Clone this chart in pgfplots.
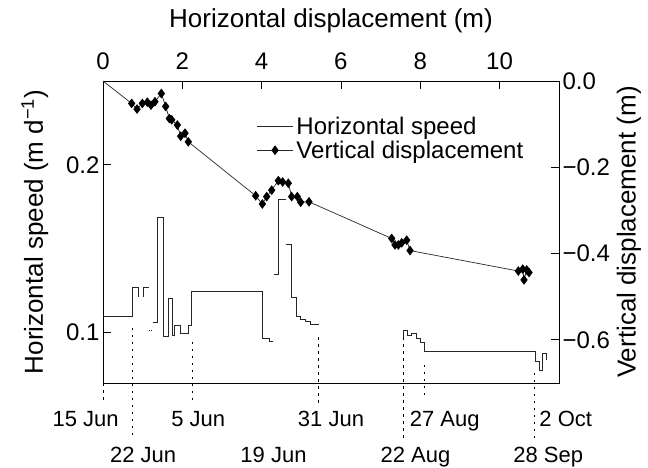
\documentclass[border=0pt]{standalone}
\usepackage{fontspec}
\setmainfont{Liberation Sans}
\usepackage{pgfplots}
\pgfplotsset{compat=1.18}
\begin{document}
\begin{tikzpicture}
\useasboundingbox (-103pt,-84pt) rectangle (545pt,383pt);
\pgfplotsset{
  common/.style={
    width=456pt, height=302pt, scale only axis,
    xmin=0, xmax=11.5,
    clip=false,
    tick align=inside, major tick length=8pt,
    tick style={line width=0.8pt, black},
    axis line style={line width=0.9pt, black},
    tick label style={font=\fontsize{24}{24}\selectfont},
    label style={font=\fontsize{26}{28}\selectfont},
  },
  speedstyle/.style={black!85, line width=0.8pt, mark=none},
  vertstyle/.style={black!85, line width=0.7pt, mark=diamond*, mark size=4.3pt, mark options={black, solid}},
}
\begin{axis}[common,
  ymin=0.07, ymax=0.25,
  xtick={0,2,4,6,8,10}, xticklabels={0,2,4,6,8,10},
  xtick pos=right, xticklabel pos=right,
  xticklabel style={yshift=8pt},
  ytick={0.1,0.2}, yticklabels={0.1,0.2}, ytick pos=left,
  xlabel={Horizontal displacement (m)},
  xlabel style={yshift=13pt},
  ylabel={Horizontal speed (m d\textsuperscript{−1})},
  ylabel style={yshift=11pt},
  unbounded coords=jump,
]
\addplot[speedstyle] coordinates {
(0,0.1099) (0.749,0.1099) (0.749,0.1268) (0.883,0.1268) (0.883,0.1211)
(0.95,nan)
(1.009,0.1211) (1.009,0.1268) (1.152,0.1268)
(1.155,nan)
(1.16,0.1016) (1.178,0.1016)
(1.2,nan)
(1.22,0.1016) (1.238,0.1016)
(1.25,nan)
(1.261,0.1062) (1.370,0.1062) (1.370,0.1688) (1.515,0.1688) (1.515,0.0980)
(1.639,0.0980) (1.639,0.1205) (1.749,0.1205) (1.749,0.0986) (1.807,0.0986)
(1.807,0.1046) (1.950,0.1046) (1.950,0.0996) (2.144,0.0996) (2.144,0.1046)
(2.240,0.1046) (2.240,0.1247) (4.018,0.1247) (4.018,0.0967) (4.195,0.0967)
(4.195,0.0947) (4.296,0.0947)
(4.30,nan)
(4.304,0.1348) (4.422,0.1348) (4.422,0.1795) (4.607,0.1795)
(4.607,nan)
(4.607,0.1527) (4.741,0.1527) (4.741,0.1209) (4.884,0.1209) (4.884,0.1095)
(4.985,0.1095) (4.985,0.1080) (5.095,0.1080) (5.095,0.1066) (5.221,0.1066)
(5.221,0.1050) (5.439,0.1050)
(6.5,nan)
(7.575,0.0976) (7.575,0.1016) (7.676,0.1016) (7.676,0.0986) (7.785,0.0986)
(7.785,0.0996) (7.894,0.0996) (7.894,0.0967) (8.012,0.0967) (8.012,0.0941)
(8.104,0.0941) (8.104,0.0891) (10.895,0.0891) (10.895,0.0827) (11.004,0.0827)
(11.004,0.0778) (11.080,0.0778) (11.080,0.0877) (11.173,0.0877) (11.173,0.0837)
};
% date reference lines
\begin{scope}[black, line width=0.7pt, dash pattern=on 2.5pt off 4.5pt]
\draw (axis cs:0,0.07) -- (axis cs:0,0.060);
\draw (axis cs:0.749,0.1028) -- (axis cs:0.749,0.037);
\draw (axis cs:2.253,0.0945) -- (axis cs:2.253,0.058);
\draw (axis cs:5.439,0.0974) -- (axis cs:5.439,0.058);
\draw (axis cs:7.575,0.0974) -- (axis cs:7.575,0.037);
\draw (axis cs:8.104,0.0808) -- (axis cs:8.104,0.060);
\draw (axis cs:10.87,0.0760) -- (axis cs:10.87,0.037);
\end{scope}
\begin{scope}[every node/.style={anchor=base, font=\fontsize{22}{22}\selectfont, inner sep=0pt}]
\node at (axis cs:-0.44,0.0438) {15 Jun};
\node at (axis cs:2.40,0.0438) {5 Jun};
\node at (axis cs:5.75,0.0438) {31 Jun};
\node at (axis cs:8.62,0.0438) {27 Aug};
\node at (axis cs:11.67,0.0438) {2 Oct};
\node at (axis cs:1.01,0.0229) {22 Jun};
\node at (axis cs:4.30,0.0229) {19 Jun};
\node at (axis cs:7.88,0.0229) {22 Aug};
\node at (axis cs:11.23,0.0229) {28 Sep};
\end{scope}
\end{axis}
\begin{axis}[common,
  ymin=-0.7, ymax=0,
  axis x line=none, axis y line*=right,
  ytick={-0.6,-0.4,-0.2,0}, yticklabels={−0.6,−0.4,−0.2,0.0},
  ylabel={Vertical displacement (m)},
  legend style={at={(axis description cs:0.33,0.895)}, anchor=north west,
    draw=none, fill=none, font=\fontsize{24}{26}\selectfont,
    cells={anchor=west}, row sep=1pt, nodes={inner xsep=3pt}},
  legend image code/.code={\draw[mark repeat=2,mark phase=2,#1] plot coordinates {(0pt,0pt) (18pt,0pt) (36pt,0pt)};},
]
\addlegendimage{speedstyle}
\addlegendentry{Horizontal speed}
\addlegendimage{vertstyle}
\addlegendentry{Vertical displacement}
\addplot[vertstyle, forget plot, mark indices={2,...,37}] coordinates {
(0,0)
(0.723,-0.052) (0.858,-0.065) (0.992,-0.052) (1.118,-0.049) (1.211,-0.056)
(1.311,-0.048) (1.471,-0.029) (1.581,-0.059) (1.673,-0.087) (1.732,-0.090)
(1.875,-0.102) (1.959,-0.128) (2.068,-0.121) (2.152,-0.141)
(3.850,-0.266) (4.018,-0.285) (4.128,-0.268) (4.254,-0.253) (4.422,-0.231)
(4.531,-0.234) (4.674,-0.237) (4.758,-0.268) (4.901,-0.268) (4.985,-0.281)
(5.195,-0.280)
(7.281,-0.365) (7.364,-0.380) (7.448,-0.380) (7.533,-0.375) (7.659,-0.369)
(7.743,-0.393)
(10.475,-0.4405) (10.585,-0.436) (10.618,-0.461) (10.686,-0.438) (10.744,-0.444)
};
\end{axis}
\end{tikzpicture}
\end{document}
